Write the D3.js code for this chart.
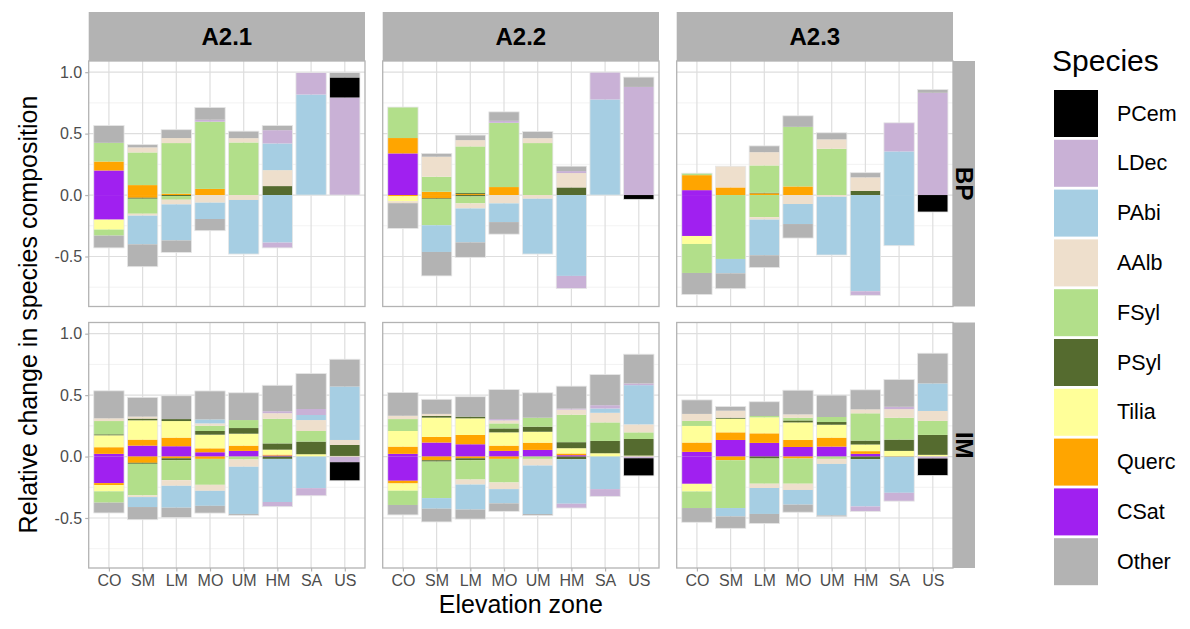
<!DOCTYPE html>
<html>
<head>
<meta charset="utf-8">
<script src="https://cdn.jsdelivr.net/npm/d3@7"></script>
<style>
  html, body { margin: 0; padding: 0; background: #fff; }
  svg { display: block; font-family: "Liberation Sans", Arial, sans-serif; }
</style>
</head>
<body>
<svg id="chart" width="1190" height="629"></svg>
<script>
// Elevation zones (x categories), scenarios (columns) and periods (rows)
const zones = ["CO", "SM", "LM", "MO", "UM", "HM", "SA", "US"];
const scenarios = ["A2.1", "A2.2", "A2.3"];
const periods = ["BP", "IM"];

// Legend order and stacking order (from the zero line outward)
const legendSpecies = ["PCem", "LDec", "PAbi", "AAlb", "FSyl", "PSyl", "Tilia", "Querc", "CSat", "Other"];
const stackSpecies = ["CSat", "Querc", "Tilia", "PSyl", "FSyl", "AAlb", "PAbi", "LDec", "PCem", "Other"];
const speciesColors = ["#000000", "#c9b1d6", "#a6cee3", "#eedfcc", "#b2df8a", "#556b2f", "#ffff99", "#ffa500", "#a020f0", "#b3b3b3"];

const yTicks = [1.0, 0.5, 0.0, -0.5];
const yTickLabels = ["1.0", "0.5", "0.0", "-0.5"];

// Gains (positive) and losses (negative) per species, one value per zone CO..US
const gainA21BP = {
  CSat: [0.20, 0, 0, 0, 0, 0, 0, 0],
  Querc: [0.073, 0.081, 0.011, 0.05, 0, 0, 0, 0],
  Tilia: [0, 0, 0, 0, 0, 0, 0, 0],
  PSyl: [0, 0, 0, 0, 0, 0.073, 0, 0],
  FSyl: [0.152, 0.266, 0.412, 0.547, 0.428, 0, 0, 0],
  AAlb: [0, 0.041, 0.041, 0, 0.035, 0.13, 0, 0],
  PAbi: [0, 0, 0, 0, 0, 0.217, 0.818, 0],
  LDec: [0, 0, 0, 0.016, 0, 0.108, 0.179, 0.794],
  PCem: [0, 0, 0, 0, 0, 0, 0, 0.163],
  Other: [0.141, 0.022, 0.068, 0.10, 0.057, 0.038, 0, 0.04]
};
const lossA21BP = {
  CSat: [-0.20, 0, 0, 0, 0, 0, 0, 0],
  Querc: [0, -0.022, 0, 0, 0, 0, 0, 0],
  Tilia: [-0.081, 0, 0, 0, 0, 0, 0, 0],
  PSyl: [0, -0.008, -0.008, 0, 0, 0, 0, 0],
  FSyl: [-0.049, -0.122, -0.03, 0, 0, 0, 0, 0],
  AAlb: [0, -0.016, -0.038, -0.062, -0.04, 0, 0, 0],
  PAbi: [0, -0.233, -0.293, -0.133, -0.44, -0.387, 0, 0],
  LDec: [0, 0, 0, 0, 0, -0.043, 0, 0],
  PCem: [0, 0, 0, 0, 0, 0, 0, 0],
  Other: [-0.10, -0.182, -0.098, -0.095, 0, 0, 0, 0]
};
const gainA22BP = {
  CSat: [0.339, 0, 0, 0, 0, 0, 0, 0],
  Querc: [0.125, 0.027, 0.008, 0.065, 0, 0, 0, 0],
  Tilia: [0, 0, 0, 0, 0, 0, 0, 0],
  PSyl: [0, 0, 0.008, 0, 0, 0.062, 0, 0],
  FSyl: [0.252, 0.122, 0.38, 0.523, 0.423, 0, 0, 0],
  AAlb: [0, 0.163, 0.051, 0, 0.04, 0.117, 0, 0],
  PAbi: [0, 0, 0, 0, 0, 0, 0.778, 0],
  LDec: [0, 0, 0, 0.016, 0, 0.016, 0.222, 0.88],
  PCem: [0, 0, 0, 0, 0, 0, 0, 0],
  Other: [0, 0.027, 0.041, 0.073, 0.054, 0.04, 0, 0.08]
};
const lossA22BP = {
  CSat: [0, 0, 0, 0, 0, 0, 0, 0],
  Querc: [-0.01, -0.027, 0, 0, 0, 0, 0, 0],
  Tilia: [-0.04, 0, 0, 0, 0, 0, 0, 0],
  PSyl: [0, -0.005, -0.011, 0, 0, 0, 0, 0],
  FSyl: [0, -0.214, -0.057, 0, 0, 0, 0, 0],
  AAlb: [-0.016, 0, -0.041, -0.068, -0.03, 0, 0, 0],
  PAbi: [0, -0.217, -0.276, -0.152, -0.45, -0.658, 0, 0],
  LDec: [0, 0, 0, 0, 0, -0.103, 0, 0],
  PCem: [0, 0, 0, 0, 0, 0, 0, -0.035],
  Other: [-0.206, -0.195, -0.122, -0.098, 0, 0, 0, 0]
};
const gainA23BP = {
  CSat: [0.04, 0, 0, 0, 0, 0, 0, 0],
  Querc: [0.122, 0.062, 0.014, 0.07, 0, 0, 0, 0],
  Tilia: [0, 0, 0, 0, 0, 0, 0, 0],
  PSyl: [0, 0, 0.005, 0, 0, 0.033, 0, 0],
  FSyl: [0.016, 0, 0.222, 0.485, 0.377, 0, 0, 0],
  AAlb: [0, 0.173, 0.108, 0, 0.076, 0.111, 0, 0],
  PAbi: [0, 0, 0, 0, 0, 0, 0.355, 0],
  LDec: [0, 0, 0, 0, 0, 0, 0.233, 0.832],
  PCem: [0, 0, 0, 0, 0, 0, 0, 0],
  Other: [0, 0, 0.051, 0.09, 0.054, 0.038, 0, 0.027]
};
const lossA23BP = {
  CSat: [-0.333, 0, 0, 0, 0, 0, 0, 0],
  Querc: [0, 0, 0, 0, 0, 0, 0, 0],
  Tilia: [-0.065, 0, 0, 0, 0, 0, 0, 0],
  PSyl: [0, 0, 0, 0, 0, 0, 0, 0],
  FSyl: [-0.236, -0.52, -0.18, 0, 0, 0, 0, 0],
  AAlb: [0, 0, -0.02, -0.073, -0.014, 0, 0, 0],
  PAbi: [0, -0.117, -0.29, -0.163, -0.474, -0.783, -0.412, 0],
  LDec: [0, 0, 0, 0, 0, -0.033, 0, 0],
  PCem: [0, 0, 0, 0, 0, 0, 0, -0.138],
  Other: [-0.176, -0.125, -0.10, -0.114, 0, 0, 0, 0]
};
const gainA21IM = {
  CSat: [0.022, 0.089, 0.084, 0.035, 0.046, 0.008, 0, 0],
  Querc: [0.054, 0.049, 0.07, 0.032, 0.043, 0.008, 0, 0],
  Tilia: [0.097, 0.157, 0.135, 0.111, 0.097, 0.04, 0.019, 0.005],
  PSyl: [0.008, 0.014, 0.016, 0.03, 0.046, 0.051, 0.103, 0.089],
  FSyl: [0.108, 0, 0, 0.043, 0.065, 0.2, 0.086, 0],
  AAlb: [0.022, 0.016, 0, 0.019, 0, 0.046, 0.089, 0.041],
  PAbi: [0, 0, 0, 0.032, 0, 0, 0.041, 0.435],
  LDec: [0, 0, 0, 0, 0, 0.016, 0.049, 0],
  PCem: [0, 0, 0, 0, 0, 0, 0, 0],
  Other: [0.224, 0.157, 0.19, 0.232, 0.222, 0.211, 0.289, 0.222]
};
const lossA21IM = {
  CSat: [-0.216, 0, 0, 0, 0, 0, 0, 0],
  Querc: [-0.016, -0.051, -0.014, -0.019, 0, 0, 0, 0],
  Tilia: [-0.051, 0, 0, 0, 0, 0, 0, 0],
  PSyl: [0, -0.008, -0.016, 0, 0, -0.019, 0, 0],
  FSyl: [-0.092, -0.257, -0.162, -0.211, -0.024, 0, 0, 0],
  AAlb: [0, -0.014, -0.046, -0.049, -0.059, 0, 0, 0],
  PAbi: [0, -0.081, -0.178, -0.122, -0.384, -0.351, -0.257, 0],
  LDec: [0, 0, 0, 0, 0, -0.038, -0.062, -0.046],
  PCem: [0, 0, 0, 0, 0, 0, 0, -0.151],
  Other: [-0.084, -0.103, -0.081, -0.059, -0.011, 0, 0, 0]
};
const gainA22IM = {
  CSat: [0.022, 0.114, 0.1, 0.046, 0.054, 0.011, 0, 0],
  Querc: [0.059, 0.046, 0.076, 0.043, 0.059, 0.014, 0, 0],
  Tilia: [0.127, 0.157, 0.135, 0.108, 0.089, 0.043, 0.027, 0.008],
  PSyl: [0, 0.014, 0.014, 0.032, 0.041, 0.049, 0.1, 0.135],
  FSyl: [0.097, 0, 0, 0.041, 0.073, 0.224, 0.151, 0.054],
  AAlb: [0.027, 0.016, 0, 0.024, 0, 0.041, 0.078, 0.065],
  PAbi: [0, 0, 0, 0, 0, 0, 0.035, 0.319],
  LDec: [0, 0, 0, 0.011, 0, 0.008, 0.027, 0.014],
  PCem: [0, 0, 0, 0, 0, 0, 0, 0],
  Other: [0.189, 0.119, 0.162, 0.24, 0.203, 0.183, 0.249, 0.238]
};
const lossA22IM = {
  CSat: [-0.197, 0, 0, 0, 0, 0, 0, 0],
  Querc: [-0.022, -0.03, -0.014, -0.019, 0, 0, 0, 0],
  Tilia: [-0.059, 0, 0, 0, 0, 0, 0, 0],
  PSyl: [0, -0.011, -0.016, 0, 0, -0.022, 0, 0],
  FSyl: [-0.116, -0.297, -0.157, -0.192, -0.019, 0, 0, 0],
  AAlb: [0, 0, -0.041, -0.054, -0.054, 0, 0, 0],
  PAbi: [0, -0.086, -0.203, -0.116, -0.395, -0.362, -0.265, 0],
  LDec: [0, 0, 0, 0, 0, -0.035, -0.059, -0.014],
  PCem: [0, 0, 0, 0, 0, 0, 0, -0.143],
  Other: [-0.081, -0.108, -0.078, -0.065, -0.011, 0, 0, 0]
};
const gainA23IM = {
  CSat: [0.038, 0.135, 0.111, 0.078, 0.081, 0.022, 0, 0],
  Querc: [0.076, 0.062, 0.078, 0.057, 0.073, 0.022, 0.005, 0],
  Tilia: [0.135, 0.111, 0.13, 0.143, 0.105, 0.054, 0.041, 0.014],
  PSyl: [0, 0.008, 0, 0.016, 0.022, 0.032, 0.092, 0.162],
  FSyl: [0.041, 0, 0.011, 0.022, 0.041, 0.222, 0.178, 0.114],
  AAlb: [0.057, 0.057, 0, 0.027, 0, 0.032, 0.07, 0.081],
  PAbi: [0, 0, 0, 0, 0, 0, 0, 0.224],
  LDec: [0, 0, 0, 0, 0, 0, 0.019, 0],
  PCem: [0, 0, 0, 0, 0, 0, 0, 0],
  Other: [0.114, 0.035, 0.116, 0.197, 0.178, 0.159, 0.222, 0.246]
};
const lossA23IM = {
  CSat: [-0.222, 0, 0, 0, 0, 0, 0, 0],
  Querc: [0, -0.03, 0, -0.016, 0, 0, 0, 0],
  Tilia: [-0.062, 0, 0, 0, 0, 0, 0, 0],
  PSyl: [0, 0, -0.016, 0, 0, -0.022, 0, 0],
  FSyl: [-0.135, -0.389, -0.205, -0.205, -0.019, 0, 0, 0],
  AAlb: [0, 0, -0.035, -0.051, -0.041, 0, 0, 0],
  PAbi: [0, -0.068, -0.211, -0.119, -0.419, -0.384, -0.295, 0],
  LDec: [0, 0, 0, 0, 0, -0.041, -0.068, -0.016],
  PCem: [0, 0, 0, 0, 0, 0, 0, -0.138],
  Other: [-0.116, -0.097, -0.078, -0.062, -0.011, 0, 0, 0]
};

const panelData = {
  "A2.1|BP": [gainA21BP, lossA21BP], "A2.2|BP": [gainA22BP, lossA22BP], "A2.3|BP": [gainA23BP, lossA23BP],
  "A2.1|IM": [gainA21IM, lossA21IM], "A2.2|IM": [gainA22IM, lossA22IM], "A2.3|IM": [gainA23IM, lossA23IM]
};

// ---- layout ----
const svg = d3.select("#chart");
const FONT = "'Liberation Sans', Arial, sans-serif";
const panelLeft = [88.7, 382.7, 676.7];
const panelW = 276.3;
const panelTop = [61, 322.5];
const panelH = 245.5;
const stripTop = 12;
const stripRight = 975;

const color = d3.scaleOrdinal().domain(legendSpecies).range(speciesColors);
// discrete expansion of 0.6 units on each side, bars 0.9 units wide
const unit = panelW / (zones.length - 1 + 1.2);
const xPos = d3.scalePoint().domain(zones).range([0.6 * unit, panelW - 0.6 * unit]);
const barW = 0.9 * unit;
const y = d3.scaleLinear().domain([-0.907, 1.091]).range([panelH, 0]);

const keys = stackSpecies.flatMap(s => [s + "|g", s + "|l"]);
const stack = d3.stack().keys(keys).offset(d3.stackOffsetDiverging);

periods.forEach((per, ri) => {
  scenarios.forEach((sc, ci) => {
    const g = svg.append("g").attr("transform", `translate(${panelLeft[ci]},${panelTop[ri]})`);
    const [gain, loss] = panelData[sc + "|" + per];
    const rows = zones.map((z, i) => {
      const r = { zone: z };
      stackSpecies.forEach(s => { r[s + "|g"] = gain[s][i]; r[s + "|l"] = loss[s][i]; });
      return r;
    });

    // background and grid
    g.append("rect").attr("width", panelW).attr("height", panelH).attr("fill", "#fff");
    const minor = [0.75, 0.25, -0.25, -0.75];
    g.selectAll(".minor").data(minor).join("line")
      .attr("x1", 0).attr("x2", panelW).attr("y1", d => y(d)).attr("y2", d => y(d))
      .attr("stroke", "#ececec").attr("stroke-width", 0.7);
    g.selectAll(".major").data(yTicks).join("line")
      .attr("x1", 0).attr("x2", panelW).attr("y1", d => y(d)).attr("y2", d => y(d))
      .attr("stroke", "#dedede").attr("stroke-width", 1.2);
    g.selectAll(".vmajor").data(zones).join("line")
      .attr("y1", 0).attr("y2", panelH).attr("x1", d => xPos(d)).attr("x2", d => xPos(d))
      .attr("stroke", "#dedede").attr("stroke-width", 1.2);

    // stacked bars
    const series = stack(rows);
    series.forEach(ser => {
      const sp = ser.key.split("|")[0];
      g.append("g").selectAll("rect").data(ser.filter(d => Math.abs(d[1] - d[0]) > 1e-9)).join("rect")
        .attr("x", d => xPos(d.data.zone) - barW / 2)
        .attr("width", barW)
        .attr("y", d => y(Math.max(d[0], d[1])))
        .attr("height", d => Math.abs(y(d[0]) - y(d[1])))
        .attr("fill", color(sp));
    });
    // thin light outline around each whole bar
    const ext = rows.map(r => {
      const pos = d3.sum(keys, k => Math.max(0, r[k]));
      const neg = d3.sum(keys, k => Math.min(0, r[k]));
      return { zone: r.zone, pos, neg };
    });
    g.selectAll(".outline").data(ext).join("rect")
      .attr("x", d => xPos(d.zone) - barW / 2).attr("width", barW)
      .attr("y", d => y(d.pos)).attr("height", d => y(d.neg) - y(d.pos))
      .attr("fill", "none").attr("stroke", "#e6e6e6").attr("stroke-width", 0.8);

    // panel border
    g.append("rect").attr("width", panelW).attr("height", panelH)
      .attr("fill", "none").attr("stroke", "#b3b3b3").attr("stroke-width", 1.3);

    // y axis on first column
    if (ci === 0) {
      const ya = d3.axisLeft(y).tickValues(yTicks).tickFormat((d, i) => yTickLabels[i]).tickSize(3.5).tickPadding(3);
      const ag = g.append("g").call(ya);
      ag.select(".domain").remove();
      ag.selectAll("line").attr("stroke", "#b3b3b3").attr("stroke-width", 1.2);
      ag.selectAll("text").attr("fill", "#4d4d4d").style("font-size", "16px").style("font-family", FONT);
    }
    // x axis on bottom row
    if (ri === periods.length - 1) {
      const xa = d3.axisBottom(xPos).tickSize(3.5).tickPadding(3);
      const ag = g.append("g").attr("transform", `translate(0,${panelH})`).call(xa);
      ag.select(".domain").remove();
      ag.selectAll("line").attr("stroke", "#b3b3b3").attr("stroke-width", 1.2);
      ag.selectAll("text").attr("fill", "#4d4d4d").style("font-size", "16px").style("font-family", FONT);
    }
  });
});

// column strips
scenarios.forEach((sc, ci) => {
  svg.append("rect").attr("x", panelLeft[ci]).attr("y", stripTop)
    .attr("width", panelW).attr("height", panelTop[0] - stripTop).attr("fill", "#b3b3b3");
  svg.append("text").attr("x", panelLeft[ci] + panelW / 2).attr("y", (stripTop + panelTop[0]) / 2)
    .attr("text-anchor", "middle").attr("dominant-baseline", "central")
    .style("font-size", "24px").style("font-weight", "bold").attr("fill", "#000").text(sc);
});
// row strips
const rightEdge = panelLeft[2] + panelW;
periods.forEach((per, ri) => {
  svg.append("rect").attr("x", rightEdge).attr("y", panelTop[ri])
    .attr("width", stripRight - rightEdge).attr("height", panelH).attr("fill", "#b3b3b3");
  const cx = (rightEdge + stripRight) / 2, cy = panelTop[ri] + panelH / 2;
  svg.append("text").attr("transform", `translate(${cx},${cy}) rotate(90)`)
    .attr("text-anchor", "middle").attr("dominant-baseline", "central")
    .style("font-size", "24px").style("font-weight", "bold").attr("fill", "#000").text(per);
});

// axis titles
svg.append("text").attr("x", (panelLeft[0] + rightEdge) / 2).attr("y", 613)
  .attr("text-anchor", "middle").style("font-size", "25px").attr("fill", "#000").text("Elevation zone");
svg.append("text").attr("transform", `translate(37,${(panelTop[0] + panelTop[1] + panelH) / 2}) rotate(-90)`)
  .attr("text-anchor", "middle").style("font-size", "25px").attr("fill", "#000")
  .text("Relative change in species composition");

// legend
const lg = svg.append("g");
lg.append("text").attr("x", 1052).attr("y", 71).style("font-size", "30px").attr("fill", "#000").text("Species");
const keyPitch = 49.8, keyTop = 90;
legendSpecies.forEach((s, i) => {
  const ky = keyTop + i * keyPitch;
  lg.append("rect").attr("x", 1054).attr("y", ky).attr("width", 44).attr("height", 47).attr("fill", color(s));
  lg.append("text").attr("x", 1117).attr("y", ky + 23.5).attr("dominant-baseline", "central")
    .style("font-size", "21.5px").attr("fill", "#000").text(s);
});
</script>
</body>
</html>
